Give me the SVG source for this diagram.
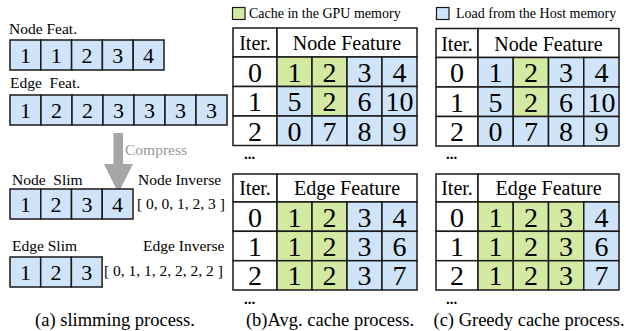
<svg xmlns="http://www.w3.org/2000/svg" width="626" height="331" viewBox="0 0 626 331" font-family="'Liberation Serif', 'DejaVu Serif', serif">
<style>
text{font-family:'Liberation Serif','DejaVu Serif',serif;fill:#000}
.b{fill:#cfe4f9;stroke:#1a1a1a;stroke-width:1.5}
.g{fill:#d4eaa3;stroke:#1a1a1a;stroke-width:1.5}
.w{fill:#fff;stroke:#1a1a1a;stroke-width:1.5}
.d{font-size:22px;text-anchor:middle}
.t{font-size:28px;text-anchor:middle}
.h{font-size:20px;text-anchor:middle}
.l{font-size:15.5px}
.c{font-size:18.5px;text-anchor:middle}
.lg{font-size:14px}
.dots{font-size:15px;font-weight:bold}
</style>
<rect width="626" height="331" fill="#fff"/>

<!-- (a) slimming -->
<g id="node-feat">
<text class="l" x="9" y="34">Node Feat.</text>
<rect class="b" x="10" y="40" width="30.8" height="30"/><text class="d" x="25.4" y="63">1</text>
<rect class="b" x="40.8" y="40" width="30.8" height="30"/><text class="d" x="56.2" y="63">1</text>
<rect class="b" x="71.6" y="40" width="30.8" height="30"/><text class="d" x="87" y="63">2</text>
<rect class="b" x="102.4" y="40" width="30.8" height="30"/><text class="d" x="117.8" y="63">3</text>
<rect class="b" x="133.2" y="40" width="30.8" height="30"/><text class="d" x="148.6" y="63">4</text>
</g>
<g id="edge-feat">
<text class="l" x="10" y="88" xml:space="preserve">Edge  Feat.</text>
<rect class="b" x="10" y="95" width="31" height="30"/><text class="d" x="25.5" y="118">1</text>
<rect class="b" x="41" y="95" width="31" height="30"/><text class="d" x="56.5" y="118">2</text>
<rect class="b" x="72" y="95" width="31" height="30"/><text class="d" x="87.5" y="118">2</text>
<rect class="b" x="103" y="95" width="31" height="30"/><text class="d" x="118.5" y="118">3</text>
<rect class="b" x="134" y="95" width="31" height="30"/><text class="d" x="149.5" y="118">3</text>
<rect class="b" x="165" y="95" width="31" height="30"/><text class="d" x="180.5" y="118">3</text>
<rect class="b" x="196" y="95" width="31" height="30"/><text class="d" x="211.5" y="118">3</text>
</g>
<g id="connectors">
<path d="M113.5 133 H123 V164 H133 L118.25 193 L104 164 H113.5 Z" fill="#a6a6a6"/>
<text class="l" x="125" y="155" style="fill:#9a9a9a">Compress</text>
</g>
<g id="node-slim">
<text class="l" x="12" y="185" xml:space="preserve">Node  Slim</text>
<rect class="b" x="10" y="189" width="30.75" height="30"/><text class="d" x="25.4" y="212">1</text>
<rect class="b" x="40.75" y="189" width="30.75" height="30"/><text class="d" x="56.1" y="212">2</text>
<rect class="b" x="71.5" y="189" width="30.75" height="30"/><text class="d" x="86.9" y="212">3</text>
<rect class="b" x="102.25" y="189" width="30.75" height="30"/><text class="d" x="117.6" y="212">4</text>
</g>
<g id="node-inverse">
<text class="l" x="138" y="185">Node Inverse</text>
<text class="l" x="137" y="209">[ 0, 0, 1, 2, 3 ]</text>
</g>
<g id="edge-slim">
<text class="l" x="12" y="251">Edge Slim</text>
<rect class="b" x="10" y="257" width="30.7" height="30"/><text class="d" x="25.4" y="280">1</text>
<rect class="b" x="40.7" y="257" width="30.7" height="30"/><text class="d" x="56" y="280">2</text>
<rect class="b" x="71.4" y="257" width="30.7" height="30"/><text class="d" x="86.7" y="280">3</text>
</g>
<g id="edge-inverse">
<text class="l" x="143" y="251">Edge Inverse</text>
<text class="l" x="104" y="276">[ 0, 1, 1, 2, 2, 2, 2 ]</text>
</g>
<text class="c" x="115" y="326">(a) slimming process.</text>

<!-- legends -->
<g id="legend-gpu">
<rect class="g" x="232.5" y="7.5" width="12.5" height="12" style="stroke-width:1.2"/>
<text class="lg" x="249" y="18">Cache in the GPU memory</text>
</g>
<g id="legend-host">
<rect class="b" x="436.5" y="7.5" width="12.5" height="12" style="stroke-width:1.2"/>
<text class="lg" x="456" y="18">Load from the Host memory</text>
</g>

<!-- (b) avg node -->
<g id="avg-node">
<rect class="w" x="233" y="28" width="44" height="29"/><text class="h" x="255" y="50">Iter.</text>
<rect class="w" x="277" y="28" width="140" height="29"/><text class="h" x="347" y="50">Node Feature</text>
<rect class="w" x="233" y="57" width="44" height="29.5"/><text class="t" x="255" y="81.5">0</text>
<rect class="g" x="277" y="57" width="35" height="29.5"/><text class="t" x="294.5" y="81.5">1</text>
<rect class="g" x="312" y="57" width="35" height="29.5"/><text class="t" x="329.5" y="81.5">2</text>
<rect class="b" x="347" y="57" width="35" height="29.5"/><text class="t" x="364.5" y="81.5">3</text>
<rect class="b" x="382" y="57" width="35" height="29.5"/><text class="t" x="399.5" y="81.5">4</text>
<rect class="w" x="233" y="86.5" width="44" height="29.5"/><text class="t" x="255" y="111">1</text>
<rect class="b" x="277" y="86.5" width="35" height="29.5"/><text class="t" x="294.5" y="111">5</text>
<rect class="g" x="312" y="86.5" width="35" height="29.5"/><text class="t" x="329.5" y="111">2</text>
<rect class="b" x="347" y="86.5" width="35" height="29.5"/><text class="t" x="364.5" y="111">6</text>
<rect class="b" x="382" y="86.5" width="35" height="29.5"/><text class="t" x="399.5" y="111">10</text>
<rect class="w" x="233" y="116" width="44" height="29.5"/><text class="t" x="255" y="140.5">2</text>
<rect class="b" x="277" y="116" width="35" height="29.5"/><text class="t" x="294.5" y="140.5">0</text>
<rect class="b" x="312" y="116" width="35" height="29.5"/><text class="t" x="329.5" y="140.5">7</text>
<rect class="b" x="347" y="116" width="35" height="29.5"/><text class="t" x="364.5" y="140.5">8</text>
<rect class="b" x="382" y="116" width="35" height="29.5"/><text class="t" x="399.5" y="140.5">9</text>
<text class="dots" x="244" y="159">...</text>
</g>

<!-- (b) avg edge -->
<g id="avg-edge">
<rect class="w" x="233" y="174" width="44" height="28"/><text class="h" x="255" y="195">Iter.</text>
<rect class="w" x="277" y="174" width="140" height="28"/><text class="h" x="347" y="195">Edge Feature</text>
<rect class="w" x="233" y="202" width="44" height="29.3"/><text class="t" x="255" y="226.5">0</text>
<rect class="g" x="277" y="202" width="35" height="29.3"/><text class="t" x="294.5" y="226.5">1</text>
<rect class="g" x="312" y="202" width="35" height="29.3"/><text class="t" x="329.5" y="226.5">2</text>
<rect class="b" x="347" y="202" width="35" height="29.3"/><text class="t" x="364.5" y="226.5">3</text>
<rect class="b" x="382" y="202" width="35" height="29.3"/><text class="t" x="399.5" y="226.5">4</text>
<rect class="w" x="233" y="231.3" width="44" height="29.4"/><text class="t" x="255" y="256">1</text>
<rect class="g" x="277" y="231.3" width="35" height="29.4"/><text class="t" x="294.5" y="256">1</text>
<rect class="g" x="312" y="231.3" width="35" height="29.4"/><text class="t" x="329.5" y="256">2</text>
<rect class="b" x="347" y="231.3" width="35" height="29.4"/><text class="t" x="364.5" y="256">3</text>
<rect class="b" x="382" y="231.3" width="35" height="29.4"/><text class="t" x="399.5" y="256">6</text>
<rect class="w" x="233" y="260.7" width="44" height="29.3"/><text class="t" x="255" y="285.3">2</text>
<rect class="g" x="277" y="260.7" width="35" height="29.3"/><text class="t" x="294.5" y="285.3">1</text>
<rect class="g" x="312" y="260.7" width="35" height="29.3"/><text class="t" x="329.5" y="285.3">2</text>
<rect class="b" x="347" y="260.7" width="35" height="29.3"/><text class="t" x="364.5" y="285.3">3</text>
<rect class="b" x="382" y="260.7" width="35" height="29.3"/><text class="t" x="399.5" y="285.3">7</text>
<text class="dots" x="244" y="304">...</text>
</g>
<text class="c" x="330" y="326">(b)Avg. cache process.</text>

<!-- (c) greedy node -->
<g id="greedy-node">
<rect class="w" x="436" y="28.5" width="42" height="29"/><text class="h" x="457" y="50.5">Iter.</text>
<rect class="w" x="478" y="28.5" width="141" height="29"/><text class="h" x="548.5" y="50.5">Node Feature</text>
<rect class="w" x="436" y="57.5" width="42" height="29.5"/><text class="t" x="457" y="82">0</text>
<rect class="b" x="478" y="57.5" width="35.25" height="29.5"/><text class="t" x="495.6" y="82">1</text>
<rect class="g" x="513.25" y="57.5" width="35.25" height="29.5"/><text class="t" x="530.9" y="82">2</text>
<rect class="b" x="548.5" y="57.5" width="35.25" height="29.5"/><text class="t" x="566.1" y="82">3</text>
<rect class="b" x="583.75" y="57.5" width="35.25" height="29.5"/><text class="t" x="601.4" y="82">4</text>
<rect class="w" x="436" y="87" width="42" height="29.5"/><text class="t" x="457" y="111.5">1</text>
<rect class="b" x="478" y="87" width="35.25" height="29.5"/><text class="t" x="495.6" y="111.5">5</text>
<rect class="g" x="513.25" y="87" width="35.25" height="29.5"/><text class="t" x="530.9" y="111.5">2</text>
<rect class="b" x="548.5" y="87" width="35.25" height="29.5"/><text class="t" x="566.1" y="111.5">6</text>
<rect class="b" x="583.75" y="87" width="35.25" height="29.5"/><text class="t" x="601.4" y="111.5">10</text>
<rect class="w" x="436" y="116.5" width="42" height="29.5"/><text class="t" x="457" y="141">2</text>
<rect class="b" x="478" y="116.5" width="35.25" height="29.5"/><text class="t" x="495.6" y="141">0</text>
<rect class="b" x="513.25" y="116.5" width="35.25" height="29.5"/><text class="t" x="530.9" y="141">7</text>
<rect class="b" x="548.5" y="116.5" width="35.25" height="29.5"/><text class="t" x="566.1" y="141">8</text>
<rect class="b" x="583.75" y="116.5" width="35.25" height="29.5"/><text class="t" x="601.4" y="141">9</text>
<text class="dots" x="446" y="159">...</text>
</g>

<!-- (c) greedy edge -->
<g id="greedy-edge">
<rect class="w" x="436" y="174" width="42" height="28"/><text class="h" x="457" y="195">Iter.</text>
<rect class="w" x="478" y="174" width="141" height="28"/><text class="h" x="548.5" y="195">Edge Feature</text>
<rect class="w" x="436" y="202" width="42" height="29.3"/><text class="t" x="457" y="226.5">0</text>
<rect class="g" x="478" y="202" width="35.25" height="29.3"/><text class="t" x="495.6" y="226.5">1</text>
<rect class="g" x="513.25" y="202" width="35.25" height="29.3"/><text class="t" x="530.9" y="226.5">2</text>
<rect class="g" x="548.5" y="202" width="35.25" height="29.3"/><text class="t" x="566.1" y="226.5">3</text>
<rect class="b" x="583.75" y="202" width="35.25" height="29.3"/><text class="t" x="601.4" y="226.5">4</text>
<rect class="w" x="436" y="231.3" width="42" height="29.4"/><text class="t" x="457" y="256">1</text>
<rect class="g" x="478" y="231.3" width="35.25" height="29.4"/><text class="t" x="495.6" y="256">1</text>
<rect class="g" x="513.25" y="231.3" width="35.25" height="29.4"/><text class="t" x="530.9" y="256">2</text>
<rect class="g" x="548.5" y="231.3" width="35.25" height="29.4"/><text class="t" x="566.1" y="256">3</text>
<rect class="b" x="583.75" y="231.3" width="35.25" height="29.4"/><text class="t" x="601.4" y="256">6</text>
<rect class="w" x="436" y="260.7" width="42" height="29.3"/><text class="t" x="457" y="285.3">2</text>
<rect class="g" x="478" y="260.7" width="35.25" height="29.3"/><text class="t" x="495.6" y="285.3">1</text>
<rect class="g" x="513.25" y="260.7" width="35.25" height="29.3"/><text class="t" x="530.9" y="285.3">2</text>
<rect class="g" x="548.5" y="260.7" width="35.25" height="29.3"/><text class="t" x="566.1" y="285.3">3</text>
<rect class="b" x="583.75" y="260.7" width="35.25" height="29.3"/><text class="t" x="601.4" y="285.3">7</text>
<text class="dots" x="446" y="304">...</text>
</g>
<text class="c" x="529" y="326">(c) Greedy cache process.</text>
</svg>
